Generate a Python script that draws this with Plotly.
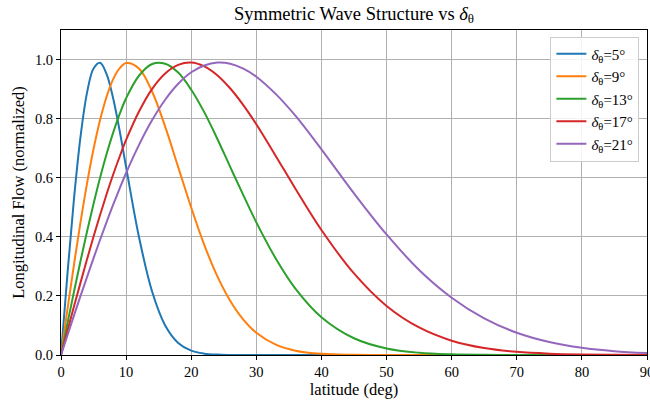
import plotly.graph_objects as go

# latitude samples (deg)
latitude = [0, 1, 2, 3, 4, 5, 6, 7, 8, 9, 10, 12, 14, 16, 18, 20, 22, 24, 26, 28,
            30, 33, 36, 40, 45, 50, 55, 60, 65, 70, 75, 80, 85, 90]

# normalized longitudinal flow for each delta_theta
flow_d5 = [0.0, 0.277, 0.530, 0.739, 0.888, 0.970, 0.989, 0.951, 0.870, 0.760, 0.636,
           0.397, 0.214, 0.100, 0.041, 0.0147, 0.0046, 0.0013, 0.0003, 0.0001,
           0.0, 0.0, 0.0, 0.0, 0.0, 0.0, 0.0, 0.0, 0.0, 0.0, 0.0, 0.0, 0.0, 0.0]
flow_d9 = [0.0, 0.156, 0.307, 0.450, 0.581, 0.697, 0.795, 0.874, 0.933, 0.970, 0.988,
           0.969, 0.891, 0.773, 0.636, 0.499, 0.373, 0.267, 0.183, 0.120,
           0.0755, 0.0349, 0.0147, 0.0041, 0.0007, 0.0001, 0.0, 0.0, 0.0, 0.0, 0.0, 0.0, 0.0, 0.0]
flow_d13 = [0.0, 0.108, 0.215, 0.318, 0.418, 0.512, 0.600, 0.680, 0.752, 0.815, 0.869,
            0.946, 0.985, 0.986, 0.956, 0.898, 0.822, 0.732, 0.636, 0.541,
            0.449, 0.326, 0.225, 0.128, 0.0568, 0.0222, 0.0077, 0.0024, 0.0007, 0.0002,
            0.0, 0.0, 0.0, 0.0]
flow_d17 = [0.0, 0.083, 0.165, 0.245, 0.324, 0.401, 0.474, 0.544, 0.610, 0.671, 0.728,
            0.825, 0.901, 0.953, 0.982, 0.990, 0.977, 0.947, 0.902, 0.846,
            0.781, 0.673, 0.563, 0.423, 0.276, 0.166, 0.0931, 0.0484, 0.0235, 0.0106,
            0.0045, 0.0018, 0.0007, 0.0002]
flow_d21 = [0.0, 0.067, 0.134, 0.200, 0.264, 0.328, 0.390, 0.450, 0.508, 0.563, 0.616,
            0.712, 0.795, 0.864, 0.918, 0.957, 0.980, 0.990, 0.986, 0.969,
            0.942, 0.883, 0.810, 0.696, 0.547, 0.408, 0.288, 0.194, 0.124, 0.0754,
            0.044, 0.0244, 0.0129, 0.0065]

deltas = [5, 9, 13, 17, 21]
series = [flow_d5, flow_d9, flow_d13, flow_d17, flow_d21]
colors = ["#1f77b4", "#ff7f0e", "#2ca02c", "#d62728", "#9467bd"]

x_ticks = [0, 10, 20, 30, 40, 50, 60, 70, 80, 90]
y_ticks = [0.0, 0.2, 0.4, 0.6, 0.8, 1.0]

font_family = "Liberation Serif, Times New Roman, serif"

fig = go.Figure()
for d, ys, c in zip(deltas, series, colors):
    fig.add_trace(go.Scatter(
        x=latitude, y=ys, mode="lines",
        line=dict(color=c, width=2, shape="spline", smoothing=1.0),
        name=f"<i>δ</i><sub>θ</sub>={d}°",
    ))

axis_common = dict(
    showline=True, linecolor="black", linewidth=1, mirror=True,
    ticks="outside", ticklen=4, tickcolor="black", tickwidth=1,
    showgrid=True, gridcolor="#b0b0b0", gridwidth=1, zeroline=False,
    tickfont=dict(family=font_family, size=14.5, color="black"),
    ticklabeloverflow="allow", automargin=False,
)

fig.update_layout(
    width=650, height=409,
    margin=dict(l=61, r=3, t=30, b=54, autoexpand=False),
    paper_bgcolor="white", plot_bgcolor="white",
    font=dict(family=font_family, size=15, color="black"),
    title=dict(text="Symmetric Wave Structure vs <i>δ</i><sub>θ</sub>",
               xref="paper", x=0.5, xanchor="center", y=0.968, yanchor="middle",
               font=dict(family=font_family, size=18.5, color="black")),
    xaxis=dict(range=[0, 90], tickvals=x_ticks,
               title=dict(text="latitude (deg)", standoff=4,
                          font=dict(family=font_family, size=16.5)),
               **axis_common),
    yaxis=dict(range=[0, 1.1], tickvals=y_ticks, tickformat=".1f",
               title=dict(text="Longitudinal Flow (normalized)", standoff=6,
                          font=dict(family=font_family, size=16.5)),
               **axis_common),
    legend=dict(x=0.987, y=0.98, xanchor="right", yanchor="top",
                bgcolor="rgba(255,255,255,0.85)", bordercolor="#cccccc", borderwidth=1,
                font=dict(family=font_family, size=15), tracegroupgap=0,
                itemwidth=30),
    showlegend=True,
)

fig.write_html("out.html")
